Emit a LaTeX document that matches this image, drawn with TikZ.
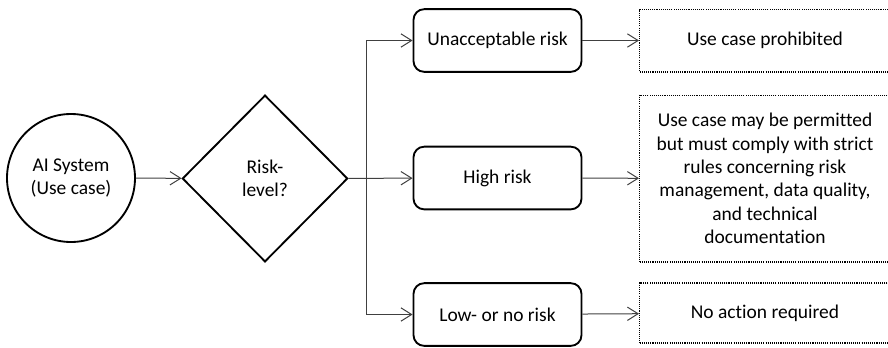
\documentclass[tikz,border=0pt]{standalone}
\usepackage{fontspec}
\setmainfont{Carlito}[Ligatures=NoCommon]
\usetikzlibrary{shapes.geometric,arrows.meta}
\tikzset{
  flow/.style={draw=black!75,line width=0.75pt,-{Straight Barb[length=8pt,width=10pt]}},
  startnode/.style={circle,draw,line width=1.4pt,minimum size=96pt,inner sep=0pt,align=center},
  decision/.style={diamond,draw,line width=1.4pt,minimum width=124pt,minimum height=125pt,inner sep=0pt,align=center},
  riskbox/.style={draw,line width=1.4pt,rounded corners=8pt,minimum width=126pt,minimum height=47pt},
  outbox/.style={draw,line width=1pt,dash pattern=on 0.8pt off 0.8pt,minimum width=188pt,align=center}
}
\begin{document}
\begin{tikzpicture}[x=0.75pt,y=-0.75pt,font=\fontsize{14.6}{17.5}\selectfont]
        \clip (0,0) rectangle (888,347);
        \node[startnode] (sys) at (71,178) {AI System\\(Use case)};
        \node[decision] (risk) at (265,178.5) {Risk-\\level?};
        \node[riskbox] (unacc) at (497.5,40.5) {Unacceptable risk};
        \node[riskbox] (high) at (497.5,178) {High risk};
        \node[riskbox] (low) at (497.5,314.5) {Low- or no risk};
        \node[outbox,minimum height=47pt] (ban) at (765,40.5) {Use case prohibited};
        \node[outbox,minimum height=125pt] (rules) at (765,178.5) {Use case may be permitted\\but must comply with strict\\rules concerning risk\\management, data quality,\\and technical\\documentation};
        \node[outbox,minimum height=45pt] (none) at (765,313) {No action required};
        \coordinate (fork) at (366,178);
        \draw[flow] (sys) -- (risk);
        \draw[flow] (risk) -- (high);
        \draw[flow] (fork) |- (unacc);
        \draw[flow] (fork) |- (low);
        \foreach \a/\b in {unacc/ban,high/rules,low/none} \draw[flow] (\a) -- (\b);
      \end{tikzpicture}
\end{document}
